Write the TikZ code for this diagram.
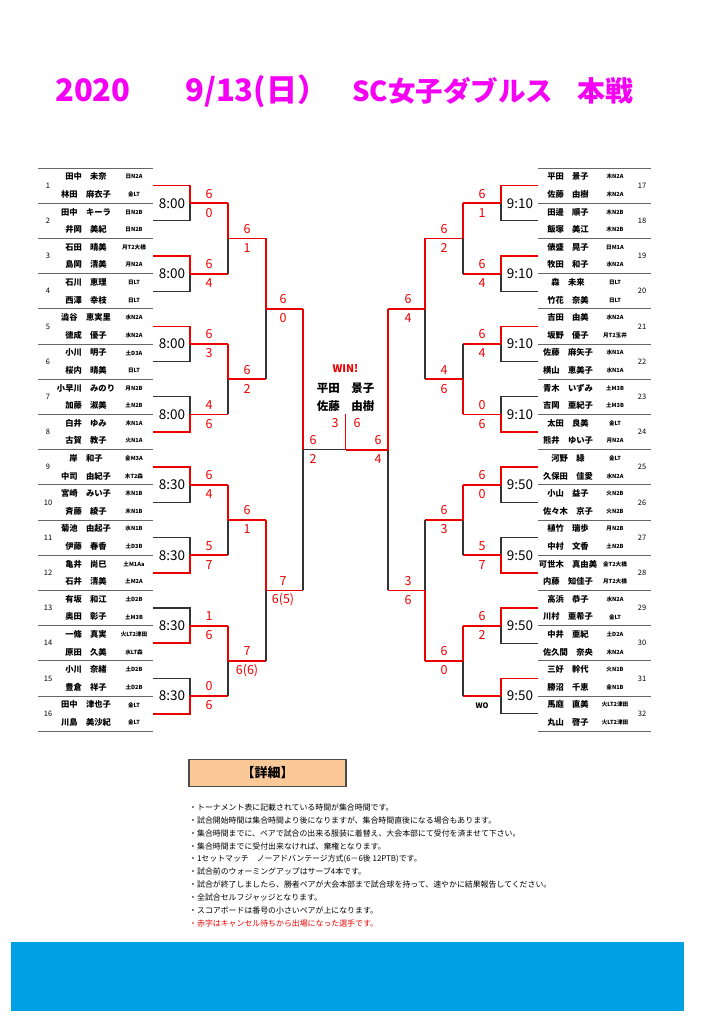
\documentclass[tikz,border=0pt]{standalone}
\usepackage{fontspec}
\setmainfont{Noto Sans CJK JP}
\definecolor{wred}{RGB}{235,0,0}
\definecolor{ttl}{RGB}{245,0,245}
\definecolor{bar}{RGB}{0,160,228}
\definecolor{peach}{RGB}{251,200,152}
\newcommand\wotext{\textcolor{black}{\bfseries\fontsize{7.5}{9}\selectfont WO}}

\begin{document}
\begin{tikzpicture}[x=1pt,y=-1pt,
    title/.style={font=\bfseries\fontsize{31}{34}\selectfont,text=ttl,inner sep=0pt,anchor=base west},
    sep/.style={line width=0.9pt,black!60},
    win/.style={line width=1.8pt,wred},
    lose/.style={line width=1.3pt,black!80},
    num/.style={font=\fontsize{7.5}{9}\selectfont,inner sep=0pt},
    nm/.style={font=\bfseries\fontsize{8.3}{10}\selectfont,inner sep=0pt},
    aff/.style={font=\bfseries\fontsize{5.6}{7}\selectfont,inner sep=0pt},
    tm/.style={font=\fontsize{13.5}{15}\selectfont,inner sep=0pt},
    sc/.style={font=\fontsize{12.5}{14}\selectfont,text=wred,inner sep=0pt},
    champ/.style={font=\bfseries\fontsize{11.5}{13}\selectfont,inner sep=0pt},
    note/.style={font=\fontsize{7.9}{9}\selectfont,inner sep=0pt,anchor=west}]
      \useasboundingbox (0,0) rectangle (724,1024);
      \node[title] (T1) at (55,102) {2020};
      \node[title] (T2) at (185,102) {9/13(日）};
      \node[title,font=\bfseries\fontsize{27.5}{30}\selectfont] (T3) at (352,102) {SC女子ダブルス};
      \node[title,font=\bfseries\fontsize{28}{30}\selectfont] (T4) at (577,102) {本戦};
      % entries
      \draw[sep] (38,168) -- (153,168);
      \draw[sep] (538,168) -- (651,168);
      \foreach \nma/\afa/\nmb/\afb [count=\k] in {田中　未奈/日N2A/林田　麻衣子/金LT,
          田中　キーラ/日N2B/井岡　美紀/日N2B, 石田　晴美/月T2大橋/島岡　清美/月N2A,
          石川　恵理/日LT/西澤　幸枝/日LT, 澁谷　恵実里/水N2A/徳成　優子/水N2A,
          小川　明子/土D3A/桜内　晴美/日LT, 小早川　みのり/月N2B/加藤　淑美/土N2B,
          白井　ゆみ/木N1A/古賀　教子/火N1A, 岸　和子/金M3A/中司　由紀子/木T2森,
          宮崎　みい子/木N1B/斉藤　綾子/木N1B, 菊池　由起子/水N1B/伊藤　春香/土D3B,
          亀井　尚巳/土M1Aa/石井　清美/土M2A, 有坂　和江/土D2B/奥田　彰子/土M3B,
          一條　真実/火LT2津田/原田　久美/水LT森, 小川　奈緒/土D2B/豊倉　祥子/土D2B,
          田中　津也子/金LT/川島　美沙紀/金LT}{
        \pgfmathsetmacro\yy{168+35.2*(\k-0.5)}
        \node[num] (Lno\k) at (48,\yy) {\k};
        \node[nm] (Lna\k) at (86,{\yy-8.8}) {\nma};
        \node[aff] (Lfa\k) at (134,{\yy-8.8}) {\afa};
        \node[nm] (Lnb\k) at (86,{\yy+8.8}) {\nmb};
        \node[aff] (Lfb\k) at (134,{\yy+8.8}) {\afb};
        \draw[sep] (38,{\yy+17.6}) -- (153,{\yy+17.6});
        \coordinate (Le\k) at (153,\yy);
      }
      \foreach \nma/\afa/\nmb/\afb [count=\k] in {平田　景子/木N2A/佐藤　由樹/木N2A,
          田邊　順子/木N2B/飯塚　美江/木N2B, 俵盛　晃子/日M1A/牧田　和子/水N2A,
          森　未来/日LT/竹花　奈美/日LT, 吉田　由美/水N2A/坂野　優子/月T2玉井,
          佐藤　麻矢子/水N1A/横山　恵美子/水N1A, 青木　いずみ/土M3B/吉岡　亜紀子/土M3B,
          太田　良美/金LT/熊井　ゆい子/月N2A, 河野　緑/金LT/久保田　佳愛/水N2A,
          小山　益子/火N2B/佐々木　京子/火N2B, 植竹　瑞歩/月N2B/中村　文香/土N2B,
          可世木　真由美/金T2大橋/内藤　知佳子/月T2大橋, 高浜　恭子/水N2A/川村　亜希子/金LT,
          中井　亜紀/土D2A/佐久間　奈央/木N2A, 三好　幹代/火N1B/勝沼　千恵/金N1B,
          馬庭　直美/火LT2津田/丸山　啓子/火LT2津田}{
        \pgfmathsetmacro\yy{168+35.2*(\k-0.5)}
        \pgfmathtruncatemacro\kk{\k+16}
        \node[num] (Rno\k) at (642,\yy) {\kk};
        \node[nm] (Rna\k) at (568,{\yy-8.8}) {\nma};
        \node[aff] (Rfa\k) at (615,{\yy-8.8}) {\afa};
        \node[nm] (Rnb\k) at (568,{\yy+8.8}) {\nmb};
        \node[aff] (Rfb\k) at (615,{\yy+8.8}) {\afb};
        \draw[sep] (538,{\yy+17.6}) -- (651,{\yy+17.6});
        \coordinate (Re\k) at (538,\yy);
      }
      % first round
      \foreach \ctop/\cbot/\tim/\scu/\scd [count=\m] in {win/lose/8:00/6/0, win/lose/8:00/6/4,
          win/lose/8:00/6/3, lose/win/8:00/4/6, win/lose/8:30/6/4, lose/win/8:30/5/7,
          lose/win/8:30/1/6, lose/win/8:30/0/6}{
        \pgfmathtruncatemacro\ka{2*\m-1}
        \pgfmathtruncatemacro\kb{2*\m}
        \coordinate (LA\m) at (190,{168+35.2*(2*\m-1)});
        \draw[\ctop] (Le\ka) -| (LA\m);
        \draw[\cbot] (Le\kb) -| (LA\m);
        \node[tm] (LAt\m) at ([xshift=-18pt]LA\m) {\tim};
        \node[sc] (LAu\m) at ([xshift=19pt,yshift=9.5pt]LA\m) {\scu};
        \node[sc] (LAd\m) at ([xshift=19pt,yshift=-9.5pt]LA\m) {\scd};
      }
      \foreach \ctop/\cbot/\tim/\scu/\scd [count=\m] in {win/lose/9:10/6/1, win/lose/9:10/6/4,
          win/lose/9:10/6/4, lose/win/9:10/0/6, win/lose/9:50/6/0, lose/win/9:50/5/7,
          win/lose/9:50/6/2, win/lose/9:50/{}/\wotext}{
        \pgfmathtruncatemacro\ka{2*\m-1}
        \pgfmathtruncatemacro\kb{2*\m}
        \coordinate (RA\m) at (501,{168+35.2*(2*\m-1)});
        \draw[\ctop] (Re\ka) -| (RA\m);
        \draw[\cbot] (Re\kb) -| (RA\m);
        \node[tm] (RAt\m) at ([xshift=19pt]RA\m) {\tim};
        \node[sc] (RAu\m) at ([xshift=-19pt,yshift=9.5pt]RA\m) {\scu};
        \node[sc] (RAd\m) at ([xshift=-19pt,yshift=-9.5pt]RA\m) {\scd};
      }
      % second round
      \foreach \ctop/\cbot/\scu/\scd [count=\m] in {win/lose/6/1, win/lose/6/2,
          win/lose/6/1, win/lose/7/6(6)}{
        \pgfmathtruncatemacro\ia{2*\m-1}
        \pgfmathtruncatemacro\ib{2*\m}
        \coordinate (LB\m) at (228,{168+35.2*(4*\m-2)});
        \draw[win] (LA\ia) -- (LA\ia -| LB\m);
        \draw[win] (LA\ib) -- (LA\ib -| LB\m);
        \draw[\ctop] (LA\ia -| LB\m) -- (LB\m);
        \draw[\cbot] (LA\ib -| LB\m) -- (LB\m);
        \node[sc] (LBu\m) at ([xshift=19pt,yshift=9.5pt]LB\m) {\scu};
        \node[sc] (LBd\m) at ([xshift=19pt,yshift=-9.5pt]LB\m) {\scd};
      }
      \foreach \ctop/\cbot/\scu/\scd [count=\m] in {win/lose/6/2, lose/win/4/6,
          win/lose/6/3, win/lose/6/0}{
        \pgfmathtruncatemacro\ia{2*\m-1}
        \pgfmathtruncatemacro\ib{2*\m}
        \coordinate (RB\m) at (463,{168+35.2*(4*\m-2)});
        \draw[win] (RA\ia) -- (RA\ia -| RB\m);
        \draw[win] (RA\ib) -- (RA\ib -| RB\m);
        \draw[\ctop] (RA\ia -| RB\m) -- (RB\m);
        \draw[\cbot] (RA\ib -| RB\m) -- (RB\m);
        \node[sc] (RBu\m) at ([xshift=-19pt,yshift=9.5pt]RB\m) {\scu};
        \node[sc] (RBd\m) at ([xshift=-19pt,yshift=-9.5pt]RB\m) {\scd};
      }
      % quarter finals
      \foreach \ctop/\cbot/\scu/\scd [count=\m] in {win/lose/6/0, win/lose/7/6(5)}{
        \pgfmathtruncatemacro\ia{2*\m-1}
        \pgfmathtruncatemacro\ib{2*\m}
        \coordinate (LC\m) at (266,{168+35.2*(8*\m-4)});
        \draw[win] (LB\ia) -- (LB\ia -| LC\m);
        \draw[win] (LB\ib) -- (LB\ib -| LC\m);
        \draw[\ctop] (LB\ia -| LC\m) -- (LC\m);
        \draw[\cbot] (LB\ib -| LC\m) -- (LC\m);
        \node[sc] (LCu\m) at ([xshift=17pt,yshift=9.5pt]LC\m) {\scu};
        \node[sc] (LCd\m) at ([xshift=17pt,yshift=-9.5pt]LC\m) {\scd};
      }
      \foreach \ctop/\cbot/\scu/\scd [count=\m] in {win/lose/6/4, lose/win/3/6}{
        \pgfmathtruncatemacro\ia{2*\m-1}
        \pgfmathtruncatemacro\ib{2*\m}
        \coordinate (RC\m) at (425,{168+35.2*(8*\m-4)});
        \draw[win] (RB\ia) -- (RB\ia -| RC\m);
        \draw[win] (RB\ib) -- (RB\ib -| RC\m);
        \draw[\ctop] (RB\ia -| RC\m) -- (RC\m);
        \draw[\cbot] (RB\ib -| RC\m) -- (RC\m);
        \node[sc] (RCu\m) at ([xshift=-17pt,yshift=9.5pt]RC\m) {\scu};
        \node[sc] (RCd\m) at ([xshift=-17pt,yshift=-9.5pt]RC\m) {\scd};
      }
      % semi finals and final
      \coordinate (LD) at (303,449.6);
      \coordinate (RD) at (388,449.6);
      \coordinate (F) at (345.5,449.6);
      \coordinate (Ft) at (345.5,414);
      \draw[win] (LC1) -- (LC1 -| LD);
      \draw[win] (LC2) -- (LC2 -| LD);
      \draw[lose] (LC2 -| LD) -- (LD);
      \draw[win] (LC1 -| LD) -- (LD);
      \draw[win] (RC1) -- (RC1 -| RD);
      \draw[win] (RC2) -- (RC2 -| RD);
      \draw[lose] (RC2 -| RD) -- (RD);
      \draw[win] (RC1 -| RD) -- (RD);
      \draw[lose] (LD) -- (F);
      \draw[win] (RD) -- (F);
      \draw[win] (F) -- (Ft);
      \node[sc] (LDu) at ([xshift=10pt,yshift=9.5pt]LD) {6};
      \node[sc] (LDd) at ([xshift=10pt,yshift=-9.5pt]LD) {2};
      \node[sc] (RDu) at ([xshift=-10pt,yshift=9.5pt]RD) {6};
      \node[sc] (RDd) at ([xshift=-10pt,yshift=-9.5pt]RD) {4};
      \node[sc] (Fl) at (335,423) {3};
      \node[sc] (Fr) at (357,423) {6};
      \node[champ,text=wred,font=\bfseries\fontsize{10.5}{12}\selectfont] (Cw) at (345.5,369) {WIN!};
      \node[champ] (C1) at (345.5,388) {平田　景子};
      \node[champ] (C2) at (345.5,406) {佐藤　由樹};
      % details
      \node[draw=black!70,line width=1.6pt,fill=peach,minimum width=157,minimum height=27,
        font=\bfseries\fontsize{13}{15}\selectfont] (D) at (267.5,773) {【詳細】};
      \foreach \txt [count=\i] in {トーナメント表に記載されている時間が集合時間です。,
          試合開始時間は集合時間より後になりますが、集合時間直後になる場合もあります。,
          集合時間までに、ペアで試合の出来る服装に着替え、大会本部にて受付を済ませて下さい。,
          集合時間までに受付出来なければ、棄権となります。,
          1セットマッチ　ノーアドバンテージ方式(6－6後 12PTB)です。,
          試合前のウォーミングアップはサーブ4本です。,
          試合が終了しましたら、勝者ペアが大会本部まで試合球を持って、速やかに結果報告してください。,
          全試合セルフジャッジとなります。,
          スコアボードは番号の小さいペアが上になります。}{
        \node[note] (N\i) at (189,{807.5+12.85*(\i-1)}) {・\txt};
      }
      \node[note,text=wred] (N10) at (189,923.2) {・赤字はキャンセル待ちから出場になった選手です。};
      \fill[bar] (11,942) rectangle (684,1011);
\end{tikzpicture}
\end{document}
